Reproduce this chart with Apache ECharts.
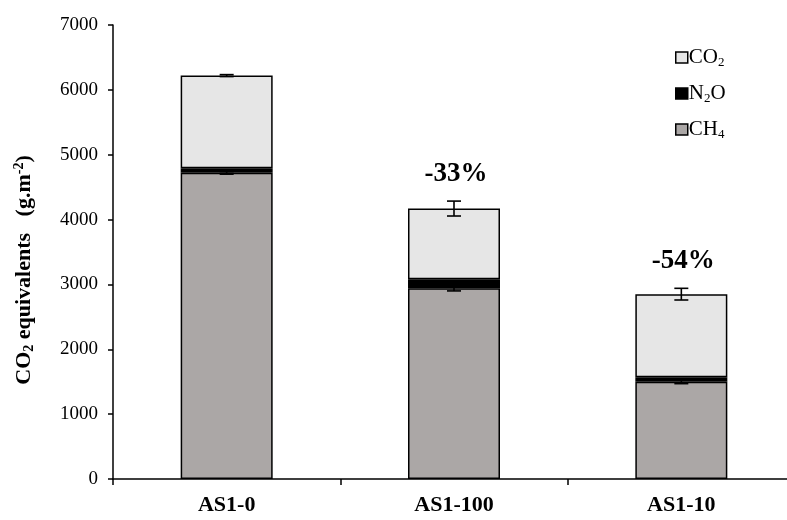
<!DOCTYPE html>
<html><head><meta charset="utf-8">
<script src="https://cdn.jsdelivr.net/npm/echarts@6/dist/echarts.min.js"></script>
<style>html,body{margin:0;padding:0;background:#fff}#c{width:787px;height:520px}</style>
</head><body><div id="c"></div>
<script>
var categories = ['AS1-0', 'AS1-100', 'AS1-10'];
var ch4 = [4720, 2940, 1500];
var n2o = [70, 140, 70];
var co2 = [1430, 1090, 1280];
var errCH4 = [20, 40, 30];
var errTotal = [15, 115, 90];
var reductionLabels = ['', '-33%', '-54%'];
var yTicks = [0, 1000, 2000, 3000, 4000, 5000, 6000, 7000];

var totals = categories.map(function (c, i) { return ch4[i] + n2o[i] + co2[i]; });
var serif = '"Liberation Serif", "Times New Roman", serif';

function errRender(vals, errs, labels) {
  return function (params, api) {
    var i = params.dataIndex;
    var x = api.coord([i, 0])[0];
    var hi = api.coord([i, vals[i] + errs[i]])[1];
    var lo = api.coord([i, vals[i] - errs[i]])[1];
    var w = 7;
    var st = { stroke: '#000', lineWidth: 1.6 };
    var children = [
      { type: 'line', shape: { x1: x, y1: hi, x2: x, y2: lo }, style: st },
      { type: 'line', shape: { x1: x - w, y1: hi, x2: x + w, y2: hi }, style: st },
      { type: 'line', shape: { x1: x - w, y1: lo, x2: x + w, y2: lo }, style: st }
    ];
    if (labels && labels[i]) {
      children.push({ type: 'text', style: { x: x + 2, y: hi - 27, text: labels[i], textAlign: 'center', textVerticalAlign: 'middle', font: 'bold 27px ' + serif, fill: '#000' } });
    }
    return { type: 'group', children: children };
  };
}

var chart = echarts.init(document.getElementById('c'), null, { renderer: 'canvas' });
var barStyle = { borderColor: '#000', borderWidth: 1.5 };
chart.setOption({
  animation: false,
  backgroundColor: '#fff',
  grid: { left: 113, top: 25, width: 682, height: 454, outerBoundsMode: 'none', containLabel: false },
  legend: {
    orient: 'vertical', left: 670, top: 42, itemGap: 14,
    itemWidth: 12, itemHeight: 11,
    data: [
      { name: 'CO2', icon: 'rect', itemStyle: { color: '#e6e6e6', borderColor: '#000', borderWidth: 1.5 } },
      { name: 'N2O', icon: 'rect', itemStyle: { color: '#000', borderColor: '#000', borderWidth: 1.5 } },
      { name: 'CH4', icon: 'rect', itemStyle: { color: '#aba7a6', borderColor: '#000', borderWidth: 1.5 } }
    ],
    formatter: function (n) {
      if (n === 'CO2') return '{a|CO}{s|2}';
      if (n === 'N2O') return '{a|N}{s|2}{a|O}';
      return '{a|CH}{s|4}';
    },
    textStyle: {
      padding: [0, 0, 0, -4],
      rich: {
        a: { fontFamily: serif, fontSize: 21, color: '#000' },
        s: { fontFamily: serif, fontSize: 13, color: '#000', padding: [10, 0, 0, 0] }
      }
    }
  },
  xAxis: {
    type: 'category', data: categories,
    axisLine: { lineStyle: { color: '#000', width: 1.5 } },
    axisTick: { show: true, length: 6, lineStyle: { color: '#000', width: 1.5 } },
    axisLabel: { fontFamily: serif, fontWeight: 'bold', fontSize: 22, color: '#000', margin: 15 }
  },
  yAxis: {
    type: 'value', min: 0, max: 7000, interval: 1000,
    axisLine: { show: true, lineStyle: { color: '#000', width: 1.5 } },
    axisTick: { show: true, length: 5, lineStyle: { color: '#000', width: 1.5 } },
    splitLine: { show: false },
    axisLabel: { fontFamily: serif, fontSize: 19, color: '#000', margin: 15,
      formatter: function (v) { return String(v); } },
    name: '{b|CO}{bs|2}{b| equivalents   (g.m}{bp|-2}{b|)}',
    nameLocation: 'middle', nameGap: 77, nameRotate: 90,
    nameTextStyle: {
      padding: [0, 0, 0, -36],
      rich: {
        b: { fontFamily: serif, fontWeight: 'bold', fontSize: 22, color: '#000' },
        bs: { fontFamily: serif, fontWeight: 'bold', fontSize: 14, color: '#000', padding: [10, 0, 0, 0] },
        bp: { fontFamily: serif, fontWeight: 'bold', fontSize: 14, color: '#000', padding: [0, 0, 10, 0] }
      }
    }
  },
  series: [
    { name: 'CH4', type: 'bar', stack: 't', barWidth: 92, data: ch4, itemStyle: Object.assign({ color: '#aba7a6' }, barStyle) },
    { name: 'N2O', type: 'bar', stack: 't', barWidth: 92, data: n2o, itemStyle: Object.assign({ color: '#000' }, barStyle) },
    { name: 'CO2', type: 'bar', stack: 't', barWidth: 92, data: co2, itemStyle: Object.assign({ color: '#e6e6e6' }, barStyle) },
    { name: 'errCH4', type: 'custom', data: ch4.map(function (v, i) { return [i, v]; }), renderItem: errRender(ch4, errCH4, null), z: 5 },
    { name: 'errTotal', type: 'custom', data: totals.map(function (v, i) { return [i, v]; }), renderItem: errRender(totals, errTotal, reductionLabels), z: 5 }
  ]
});
</script></body></html>
